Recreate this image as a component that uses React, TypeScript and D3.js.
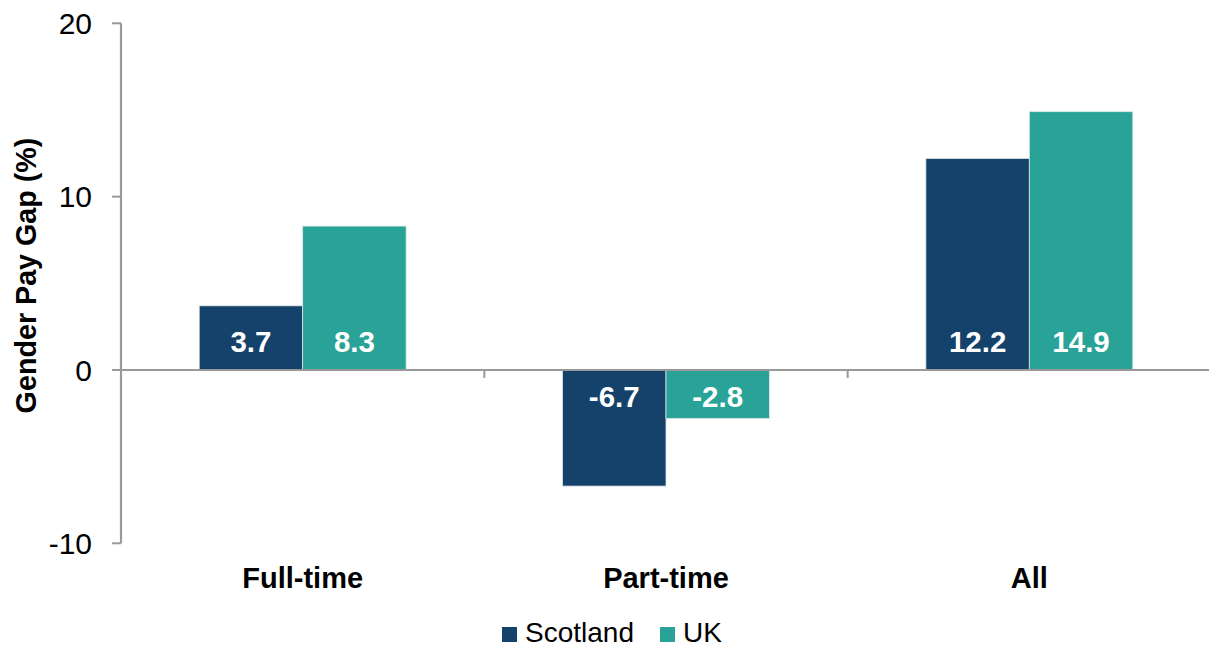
import React from "react";
import * as d3 from "d3";

const categories = ["Full-time", "Part-time", "All"];
const seriesNames = ["Scotland", "UK"];
const scotlandValues = [3.7, -6.7, 12.2];
const ukValues = [8.3, -2.8, 14.9];
const yTicks = [-10, 0, 10, 20];
const seriesColors = ["#15426b", "#29a397"];

const W = 1209;
const H = 648;
const FONT = "'Liberation Sans', Arial, Helvetica, sans-serif";

export default function App() {
  const left = 121;
  const right = 1211;
  const y = d3.scaleLinear().domain([-10, 20]).range([543.3, 23.3]);
  const x0 = d3.scaleBand<string>().domain(categories).range([left, right]).paddingInner(0).paddingOuter(0);
  const x1 = d3
    .scaleBand<string>()
    .domain(seriesNames)
    .range([0, x0.bandwidth()])
    .paddingInner(0)
    .paddingOuter(0.756);
  const valuesBySeries = [scotlandValues, ukValues];
  const y0 = y(0);
  const axisColor = "#999999";

  return (
    <svg
      width={W}
      height={H}
      style={{ position: "absolute", left: 0, top: 0, background: "#fff" }}
      fontFamily={FONT}
    >
      {/* bars */}
      {categories.map((c, ci) =>
        seriesNames.map((s, si) => {
          const v = valuesBySeries[si][ci];
          const bx = (x0(c) as number) + (x1(s) as number);
          const top = Math.min(y(v), y0);
          const h = Math.abs(y(v) - y0);
          return (
            <rect
              key={c + s}
              x={bx}
              y={top}
              width={x1.bandwidth()}
              height={h}
              fill={seriesColors[si]}
              stroke="#dfe6ea"
              strokeWidth={0.8}
            />
          );
        })
      )}

      {/* y axis */}
      <line x1={left} x2={left} y1={y(20)} y2={y(-10)} stroke={axisColor} strokeWidth={2.2} />
      {yTicks.map((t) => (
        <g key={t}>
          <line x1={left - 9} x2={left} y1={y(t)} y2={y(t)} stroke={axisColor} strokeWidth={2} />
          <text
            x={92}
            y={y(t)}
            dy="0.36em"
            textAnchor="end"
            fontSize={30}
            fill="#000"
          >
            {t}
          </text>
        </g>
      ))}

      {/* zero line / category axis */}
      <line x1={left} x2={W} y1={y0} y2={y0} stroke={axisColor} strokeWidth={2} />
      {categories.slice(1).map((c) => (
        <line
          key={c}
          x1={x0(c) as number}
          x2={x0(c) as number}
          y1={y0}
          y2={y0 + 8}
          stroke={axisColor}
          strokeWidth={2}
        />
      ))}

      {/* data labels */}
      {categories.map((c, ci) =>
        seriesNames.map((s, si) => {
          const v = valuesBySeries[si][ci];
          const cx = (x0(c) as number) + (x1(s) as number) + x1.bandwidth() / 2;
          const cy = v >= 0 ? y0 - 29 : y0 + 26;
          return (
            <text
              key={"l" + c + s}
              x={cx}
              y={cy}
              dy="0.36em"
              textAnchor="middle"
              fontSize={29.5}
              fontWeight="bold"
              fill="#fff"
            >
              {v.toFixed(1)}
            </text>
          );
        })
      )}

      {/* category labels */}
      {categories.map((c) => (
        <text
          key={"c" + c}
          x={(x0(c) as number) + x0.bandwidth() / 2}
          y={588}
          textAnchor="middle"
          fontSize={29}
          fontWeight="bold"
          fill="#000"
        >
          {c}
        </text>
      ))}

      {/* y title */}
      <text
        transform={`translate(36, 275.5) rotate(-90)`}
        textAnchor="middle"
        fontSize={28.7}
        fontWeight="bold"
        fill="#000"
      >
        Gender Pay Gap (%)
      </text>

      {/* legend */}
      {seriesNames.map((s, si) => {
        const lx = si === 0 ? 502 : 660;
        return (
          <g key={"lg" + s}>
            <rect x={lx} y={627} width={15} height={15} fill={seriesColors[si]} />
            <text x={lx + 23} y={642} fontSize={28} fill="#000">
              {s}
            </text>
          </g>
        );
      })}
    </svg>
  );
}
